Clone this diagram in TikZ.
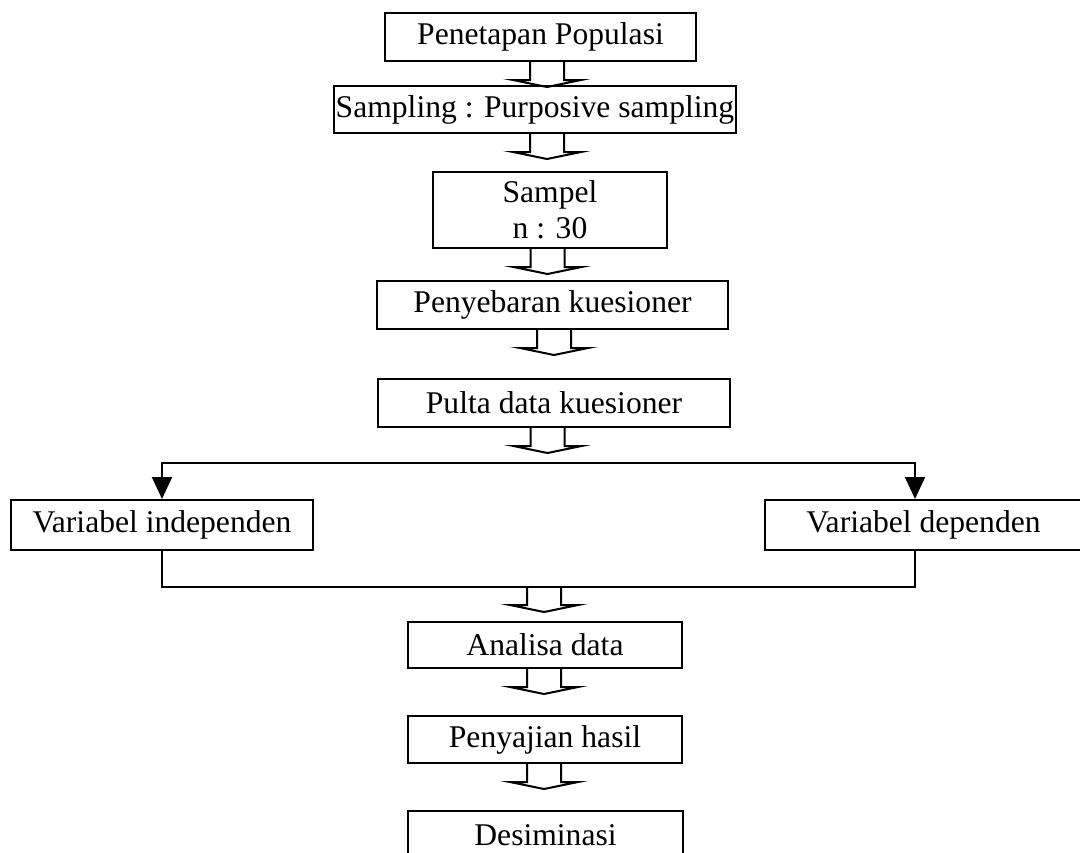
\documentclass[tikz,border=0pt]{standalone}
\usepackage{fontspec}
\setmainfont{Liberation Serif}
\usetikzlibrary{arrows.meta}

\tikzset{
    box/.style={draw, line width=1pt, inner sep=0pt, align=center,
        font=\fontsize{15.8}{18}\selectfont, minimum height=24pt},
    link/.style={line width=1pt},
    splitarr/.style={line width=1pt, {Triangle[width=10pt,length=11pt]}-{Triangle[width=10pt,length=11pt]}},
    blockarr/.pic={
        \draw[line width=1pt] (-17,0) -- (-17,18) -- (-34,18) -- (0,25)
            -- (34,18) -- (17,18) -- (17,0);
    }
}

\begin{document}
\begin{tikzpicture}[x=0.5pt,y=-0.5pt]
            \useasboundingbox (0,0) rectangle (1080,852);
            \clip (0,0) rectangle (1080,852);

            % main column
            \node[box, minimum width=155.5pt] (pop) at (540.5,37) {Penetapan Populasi};
            \node[box, minimum width=201pt, minimum height=23.5pt] (smp) at (535,109.5) {Sampling : Purposive sampling};
            \node[box, minimum width=117pt, minimum height=38pt] (sam) at (550,210) {Sampel\\n : 30};
            \node[box, minimum width=175.5pt] (pen) at (552.5,305) {Penyebaran kuesioner};
            \node[box, minimum width=176pt] (pul) at (554,403) {Pulta data kuesioner};

            % two variables
            \node[box, minimum width=151pt, minimum height=25pt] (ind) at (162,525) {Variabel independen};
            \node[box, minimum width=158.5pt, minimum height=25pt] (dep) at (923.5,525) {Variabel dependen};

            \node[box, minimum width=137pt, minimum height=23pt] (ana) at (545,645) {Analisa data};
            \node[box, minimum width=137pt, minimum height=23.5pt] (saj) at (545,739.5) {Penyajian hasil};
            \node[box, minimum width=137.5pt] (des) at (545.5,835) {Desiminasi};

            \coordinate (splitR) at (915,463);
            \coordinate (mergeR) at (915,587);
            \coordinate (mergeC) at (544,587);

            % block arrows
            \path (pop.south -| 547,0) pic {blockarr};
            \path (smp.south -| 547,0) pic {blockarr};
            \path (sam.south -| 547.5,0) pic {blockarr};
            \path (pen.south -| 554,0) pic {blockarr};
            \path (pul.south -| 547.5,0) pic {blockarr};
            \path (mergeC) pic {blockarr};
            \path (ana.south -| 544,0) pic {blockarr};
            \path (saj.south -| 544,0) pic {blockarr};

            % split and merge lines
            \draw[splitarr] (ind.north) |- (splitR) -- (splitR |- dep.north);
            \draw[link] (ind.south) |- (mergeR) -- (mergeR |- dep.south);
\end{tikzpicture}
\end{document}
